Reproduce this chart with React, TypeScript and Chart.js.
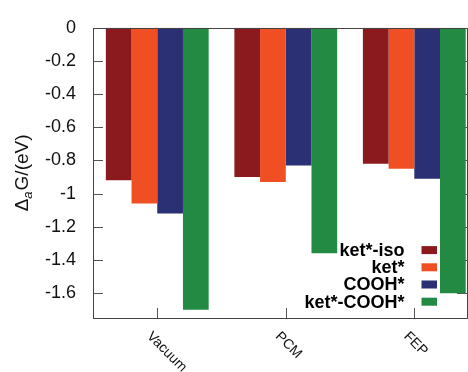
import React, { useEffect, useRef } from 'react';
import { Chart, registerables } from 'chart.js';

Chart.register(...registerables);

const categories = ['Vacuum', 'PCM', 'FEP'];
const seriesNames = ['ket*-iso', 'ket*', 'COOH*', 'ket*-COOH*'];
const ketIso = [-0.92, -0.90, -0.82];
const ket = [-1.06, -0.93, -0.85];
const cooh = [-1.12, -0.83, -0.91];
const ketCooh = [-1.70, -1.36, -1.60];
const seriesColors = ['#8b1a1e', '#f04f24', '#2b2f73', '#238a43'];
const yTicks = [0, -0.2, -0.4, -0.6, -0.8, -1, -1.2, -1.4, -1.6];
const yTitleMain = 'Δ';
const yTitleSub = 'a';
const yTitleRest = 'G/(eV)';

const FONT = '"Liberation Sans", Arial, Helvetica, sans-serif';

const decor = {
  id: 'decor',
  beforeDatasetsDraw(chart: any) {
    const { ctx, chartArea: a, scales } = chart;
    const x = scales.x;
    const y = scales.y;
    ctx.save();
    ctx.strokeStyle = '#555';
    ctx.lineWidth = 1;
    ctx.beginPath();
    yTicks.forEach((v) => {
      const py = Math.round(y.getPixelForValue(v)) + 0.5;
      ctx.moveTo(a.left, py);
      ctx.lineTo(a.left + 10, py);
      ctx.moveTo(a.right, py);
      ctx.lineTo(a.right - 10, py);
    });
    categories.forEach((_, i) => {
      const px = Math.round(x.getPixelForValue(i)) + 0.5;
      ctx.moveTo(px, a.bottom);
      ctx.lineTo(px, a.bottom - 10);
    });
    ctx.stroke();
    ctx.restore();
  },
  afterDatasetsDraw(chart: any) {
    const { ctx, chartArea: a, scales } = chart;
    const x = scales.x;
    ctx.save();
    // border box
    ctx.strokeStyle = '#444';
    ctx.lineWidth = 1;
    ctx.strokeRect(Math.round(a.left) + 0.5, Math.round(a.top) + 0.5, Math.round(a.right - a.left), Math.round(a.bottom - a.top));

    // x labels rotated
    ctx.fillStyle = '#111';
    ctx.font = `14px ${FONT}`;
    ctx.textAlign = 'left';
    ctx.textBaseline = 'alphabetic';
    categories.forEach((c, i) => {
      const px = x.getPixelForValue(i);
      ctx.save();
      ctx.translate(px - 11, a.bottom + 19);
      ctx.rotate(Math.PI / 4);
      ctx.fillText(c, 0, 0);
      ctx.restore();
    });

    // legend
    ctx.font = `bold 18px ${FONT}`;
    ctx.textAlign = 'right';
    ctx.textBaseline = 'middle';
    const n = chart.data.datasets.length;
    chart.data.datasets.forEach((ds: any, i: number) => {
      const cy = a.bottom - 16.3 - (n - 1 - i) * 17.2;
      ctx.fillStyle = '#000';
      ctx.fillText(ds.label, a.right - 62.5, cy + 1);
      ctx.fillStyle = ds.backgroundColor;
      ctx.fillRect(a.right - 45.5, cy - 4, 15.5, 8);
    });

    // y title
    const cx = 23;
    const cy = (a.top + a.bottom) / 2;
    ctx.translate(cx, cy);
    ctx.rotate(-Math.PI / 2);
    ctx.fillStyle = '#111';
    ctx.textAlign = 'left';
    ctx.textBaseline = 'middle';
    const mainFont = `19px ${FONT}`;
    const subFont = `italic 13px ${FONT}`;
    ctx.font = mainFont;
    const w1 = ctx.measureText(yTitleMain).width;
    const w3 = ctx.measureText(yTitleRest).width;
    ctx.font = subFont;
    const w2 = ctx.measureText(yTitleSub).width + 1;
    const total = w1 + w2 + w3;
    let sx = -total / 2;
    ctx.font = mainFont;
    ctx.fillText(yTitleMain, sx, 0);
    sx += w1;
    ctx.font = subFont;
    ctx.fillText(yTitleSub, sx, 5);
    sx += w2;
    ctx.font = mainFont;
    ctx.fillText(yTitleRest, sx, 0);
    ctx.restore();
  },
};

export default function App() {
  const ref = useRef<HTMLCanvasElement>(null);
  useEffect(() => {
    if (!ref.current) return;
    const series = [ketIso, ket, cooh, ketCooh];
    const chart = new Chart(ref.current, {
      type: 'bar',
      data: {
        datasets: series.map((vals, si) => ({
          label: seriesNames[si],
          data: categories.map((_, i) => ({ x: i, y: vals[i] })),
          backgroundColor: seriesColors[si],
          borderWidth: 0,
          barPercentage: 1,
          categoryPercentage: 0.8,
        })),
      },
      options: {
        animation: false,
        responsive: false,
        maintainAspectRatio: false,
        layout: { padding: { top: 20, right: 1, bottom: 0, left: 0 } },
        plugins: { legend: { display: false }, tooltip: { enabled: false } },
        scales: {
          x: {
            type: 'linear',
            min: -0.5,
            max: 2.41,
            offset: false,
            grid: { display: false, drawTicks: false },
            border: { display: false },
            ticks: { display: false },
            afterBuildTicks: (s: any) => { s.ticks = categories.map((_, i) => ({ value: i })); },
            afterFit: (s: any) => { s.height = 54; },
          },
          y: {
            type: 'linear',
            min: -1.75,
            max: 0,
            grid: { display: false, drawTicks: false },
            border: { display: false },
            ticks: {
              color: '#111',
              padding: 17,
              font: { size: 18, family: FONT },
              callback: (v: any) => String(v),
            },
            afterBuildTicks: (s: any) => { s.ticks = yTicks.map((v) => ({ value: v })); },
            afterFit: (s: any) => { s.width = 93; },
          },
        },
      } as any,
      plugins: [decor],
    });
    return () => chart.destroy();
  }, []);
  return (
    <div style={{ position: 'fixed', left: 0, top: 0, width: 468, height: 372, background: '#fff' }}>
      <canvas ref={ref} width={468} height={372} style={{ width: 468, height: 372, display: 'block' }} />
    </div>
  );
}
